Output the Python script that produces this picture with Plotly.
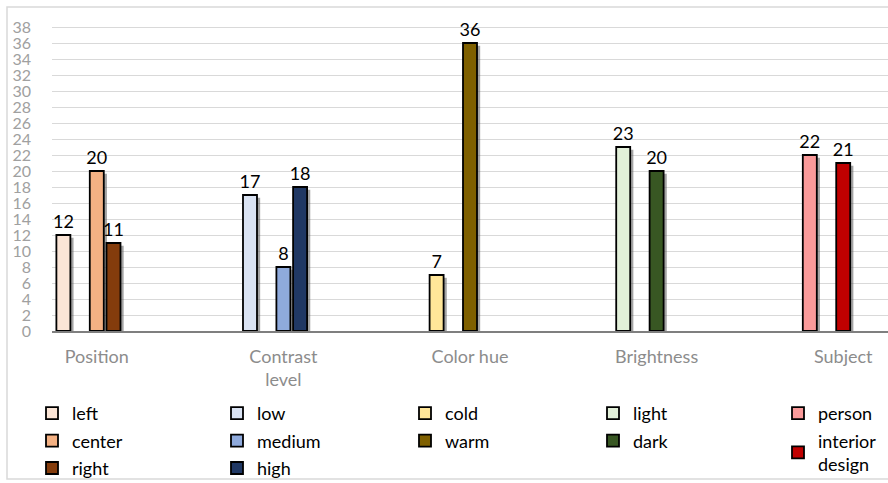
import plotly.graph_objects as go

# ---- data ----
categories = ["Position", "Contrast<br>level", "Color hue", "Brightness", "Subject"]
series_names = ["left", "center", "right",
                "low", "medium", "high",
                "cold", "warm",
                "light", "dark",
                "person", "interior<br>design"]
series_category = ["Position", "Position", "Position",
                   "Contrast<br>level", "Contrast<br>level", "Contrast<br>level",
                   "Color hue", "Color hue",
                   "Brightness", "Brightness",
                   "Subject", "Subject"]
series_values = [12, 20, 11, 17, 8, 18, 7, 36, 23, 20, 22, 21]
y_ticks = list(range(0, 40, 2))

# ---- style ----
colors = ["#FBE5D6", "#F4B183", "#843C0C",
          "#DAE3F3", "#8FAADC", "#203864",
          "#FFE699", "#7F6000",
          "#E2F0D9", "#385723",
          "#FA9A9A", "#C00000"]
slot_of = [0, 2, 3, 0, 2, 3, 0, 2, 0, 2, 0, 2]
legend_of = ["legend", "legend", "legend",
             "legend2", "legend2", "legend2",
             "legend3", "legend3",
             "legend4", "legend4",
             "legend5", "legend5"]
slot_step = 0.0895
bar_w = 0.075
FONT = "Lato, Carlito, sans-serif"

W, H = 888, 483
ML, MR, MT, MB = 52, 0, 23, 152

fig = go.Figure()

# shadows
for i, name in enumerate(series_names):
    off = (slot_of[i] - 2) * slot_step - bar_w / 2
    fig.add_trace(go.Bar(
        x=[series_category[i]], y=[series_values[i] - 0.35],
        offset=off + 0.017, width=bar_w,
        marker=dict(color="rgba(90,90,90,0.55)", line=dict(width=0)),
        showlegend=False, hoverinfo="skip",
    ))

# bars
for i, name in enumerate(series_names):
    off = (slot_of[i] - 2) * slot_step - bar_w / 2
    fig.add_trace(go.Bar(
        x=[series_category[i]], y=[series_values[i]],
        name=name, legend=legend_of[i], legendgroup="g%d" % i,
        offset=off, width=bar_w,
        marker=dict(color=colors[i], line=dict(color="#000000", width=1.8)),
        text=[series_values[i]], textposition="outside",
        textfont=dict(family=FONT, size=18, color="#000000"),
        constraintext="none", cliponaxis=False,
    ))

legend_common = dict(
    orientation="v", xref="container", yref="container",
    yanchor="top", y=1 - 395 / H,
    font=dict(family=FONT, size=18, color="#000000"),
    bgcolor="rgba(0,0,0,0)", tracegroupgap=1, itemclick=False,
)
legend_left = [32, 217, 405, 593, 778]
layout_legends = {}
for k, lx in enumerate(legend_left):
    key = "legend" if k == 0 else "legend%d" % (k + 1)
    layout_legends[key] = dict(legend_common, x=lx / W, xanchor="left")

pw = W - ML - MR
ph = H - MT - MB
fig.update_layout(
    width=W, height=H,
    margin=dict(l=ML, r=MR, t=MT, b=MB, autoexpand=False),
    paper_bgcolor="white", plot_bgcolor="white",
    barmode="overlay",
    showlegend=True,
    xaxis=dict(
        type="category", categoryorder="array", categoryarray=categories,
        range=[-0.24, 4.24], showgrid=False,
        showline=True, linecolor="#7f7f7f", linewidth=2,
        ticks="", ticklabelstandoff=8, tickangle=0,
        tickfont=dict(family=FONT, size=18, color="#8c8c8c"),
    ),
    yaxis=dict(
        range=[0, 38.5], tickvals=y_ticks,
        showgrid=True, gridcolor="#d9d9d9", gridwidth=1,
        zeroline=False, showline=False, ticks="",
        ticklabelstandoff=20,
        tickfont=dict(family=FONT, size=16, color="#a0a0a0"),
    ),
    shapes=[dict(
        type="rect", xref="paper", yref="paper",
        x0=(7 - ML) / pw, x1=(W + 5 - ML) / pw,
        y0=(H - MB - 479) / ph, y1=(H - MB - 7) / ph,
        line=dict(color="#d9d9d9", width=1.5), fillcolor="rgba(0,0,0,0)",
        layer="below",
    )],
    **layout_legends,
)

fig.write_html(
    "out.html",
    config={"displayModeBar": False},
    post_script="document.body.style.margin='0';document.body.style.overflow='hidden';",
)
